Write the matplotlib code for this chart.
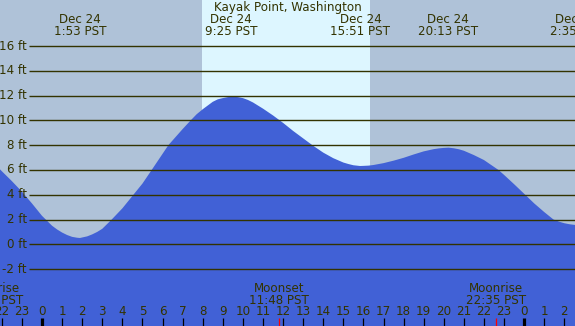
import matplotlib.pyplot as plt
import numpy as np

# tide heights (hours from midnight Dec 24, feet)
hours = [-2.09, -2.0, -1.5, -1.0, -0.5, 0.0, 0.5, 0.75, 1.0, 1.25,
         1.5, 1.75, 1.89, 2.0, 2.25, 2.5, 2.75, 3.0, 3.47, 4.0,
         4.55, 5.0, 5.46, 6.0, 6.29, 7.0, 7.4, 7.7, 8.0, 8.5,
         8.75, 9.0, 9.25, 9.45, 9.75, 10.0, 10.25, 10.5, 11.0, 11.5,
         12.0, 12.5, 13.0, 13.5, 14.0, 14.5, 15.0, 15.25, 15.5, 15.83,
         16.0, 16.25, 16.5, 17.0, 17.5, 18.0, 18.5, 19.0, 19.5, 19.75,
         20.0, 20.24, 20.5, 20.75, 21.0, 21.5, 22.0, 22.72, 23.0, 23.5,
         24.05, 24.5, 25.0, 25.46, 25.75, 26.0, 26.25, 26.54]
heights = [6.05, 5.9, 5.1, 4.25, 3.3, 2.3, 1.5, 1.2, 0.95, 0.75,
           0.6, 0.53, 0.51, 0.55, 0.64, 0.8, 1.0, 1.25, 2.0, 2.9,
           4.0, 4.9, 6.0, 7.3, 8.0, 9.3, 10.0, 10.5, 10.9, 11.5,
           11.7, 11.8, 11.88, 11.91, 11.88, 11.8, 11.65, 11.45, 10.95, 10.4,
           9.8, 9.15, 8.55, 7.95, 7.4, 6.95, 6.6, 6.48, 6.38, 6.32,
           6.33, 6.35, 6.4, 6.55, 6.75, 6.98, 7.25, 7.5, 7.68, 7.74,
           7.78, 7.8, 7.75, 7.67, 7.55, 7.2, 6.8, 6.0, 5.6, 4.85,
           4.0, 3.3, 2.6, 2.0, 1.82, 1.7, 1.62, 1.56]

# extremes shown along the top
event_hours = [1.883, 9.417, 15.85, 20.217, 26.583]
event_dates = ['Dec 24', 'Dec 24', 'Dec 24', 'Dec 24', 'Dec 25']
event_times = ['1:53 PST', '9:25 PST', '15:51 PST', '20:13 PST', '2:35 PST']

sunrise, sunset = 7.97, 16.32
moon_hours = [-2.45, 11.8, 22.583]
moon_names = ['Moonrise', 'Moonset', 'Moonrise']
moon_times = ['21:33 PST', '11:48 PST', '22:35 PST']

ft_levels = list(range(-2, 17, 2))

night = '#afc2d8'
day = '#ddf6ff'
water = '#4161d6'
ink = '#333300'

x0, x1 = -2.09, 26.53
px_ft = 12.39
zero_px = 244.3


def ypx(p):
    # pixel row -> feet
    return (zero_px - p) / px_ft


fs = 8.6

fig = plt.figure(figsize=(5.75, 3.26), dpi=100)
ax = fig.add_axes([0, 0, 1, 1])
ax.set_xlim(x0, x1)
ax.set_ylim(ypx(326), ypx(0))
ax.axis('off')
ax.set_facecolor(night)
fig.patch.set_facecolor(night)

ax.axvspan(sunrise, sunset, color=day, lw=0, zorder=0)
ax.fill_between(hours, heights, ypx(330), color=water, lw=0, zorder=1)

ax.hlines(ft_levels, -0.65, x1 + 1, color=ink, lw=1.0, zorder=2)
for lv in ft_levels:
    ax.text(-0.76, lv, f'{lv} ft', ha='right', va='center', fontsize=fs,
            color=ink, zorder=3)

ax.text(12.25, ypx(7.5), 'Kayak Point, Washington', ha='center', va='center',
        fontsize=fs, color=ink)
for h, d, t in zip(event_hours, event_dates, event_times):
    ax.text(h, ypx(19.5), d, ha='center', va='center', fontsize=fs, color=ink)
    ax.text(h, ypx(31.5), t, ha='center', va='center', fontsize=fs, color=ink)

for h, n, t in zip(moon_hours, moon_names, moon_times):
    ax.text(h, ypx(288), n, ha='center', va='center', fontsize=fs, color=ink)
    ax.text(h, ypx(300), t, ha='center', va='center', fontsize=fs, color=ink)

# hour ticks along the bottom
for h in range(-2, 27):
    ax.text(h, ypx(311.5), str(h % 24), ha='center', va='center',
            fontsize=fs, color=ink)
    lw = 2.3 if h % 24 == 0 else 0.9
    ax.vlines(h, ypx(318), ypx(327), color='black', lw=lw, zorder=3)
ax.vlines(moon_hours, ypx(318), ypx(327), color='red', lw=0.9, zorder=3)

fig.savefig('out.png', dpi=100, facecolor=night)
